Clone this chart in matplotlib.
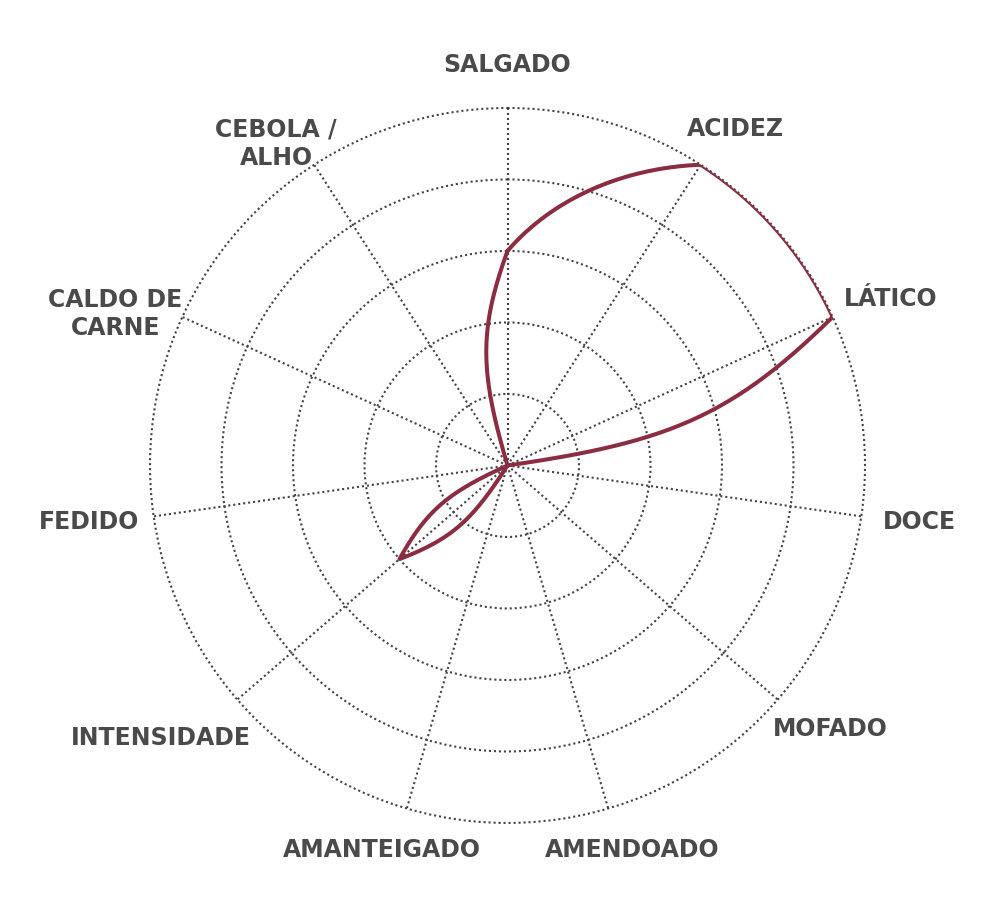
import matplotlib
matplotlib.use('Agg')
import matplotlib.pyplot as plt
import matplotlib.transforms as mtransforms
import numpy as np

# flavour profile, clockwise from the top
categories = ['SALGADO', 'ACIDEZ', 'LÁTICO', 'DOCE', 'MOFADO', 'AMENDOADO',
              'AMANTEIGADO', 'INTENSIDADE', 'FEDIDO', 'CALDO DE\nCARNE', 'CEBOLA /\nALHO']
values = [3, 5, 5, 0, 0, 0, 0, 2, 0, 0, 0]
levels = [1, 2, 3, 4, 5]

LINE = '#8b2c41'
GRID = '#444444'
TEXT = '#4a4a4a'

n = len(categories)
step = 2 * np.pi / n
angles = np.arange(n) * step
rmax = levels[-1]


def xy(theta, r):
    return np.array([r * np.sin(theta), r * np.cos(theta)])


def to_centre(ta, ra, tb, phi=np.radians(20), lam=0.4, dlt=0.45, steps=90):
    # cubic from a filled spoke into the centre, leaning toward the empty spoke
    d = (tb - ta + np.pi) % (2 * np.pi) - np.pi
    p0 = xy(ta, ra)
    inward = -xy(ta, 1)
    side = np.sign(d) * np.array([np.cos(ta), -np.sin(ta)])
    p1 = p0 + lam * ra * (np.cos(phi) * inward + np.sin(phi) * side)
    p2 = xy(ta + d / 2, dlt * ra)
    u = np.linspace(0, 1, steps)[:, None]
    return (1 - u) ** 3 * p0 + 3 * (1 - u) ** 2 * u * p1 + 3 * (1 - u) * u ** 2 * p2


segs = []
for i in range(n):
    j = (i + 1) % n
    ra, rb = values[i], values[j]
    if ra > 0 and rb > 0:
        t = np.linspace(angles[i], angles[i] + step, 90)
        r = np.linspace(ra, rb, 90)
        segs.append(np.column_stack([r * np.sin(t), r * np.cos(t)]))
    elif ra > 0:
        segs.append(to_centre(angles[i], ra, angles[j]))
    elif rb > 0:
        segs.append(to_centre(angles[j], rb, angles[i])[::-1])
    else:
        segs.append(np.zeros((1, 2)))
pts = np.vstack(segs + [segs[0][:1]])
curve_t = np.arctan2(pts[:, 0], pts[:, 1])
curve_r = np.hypot(pts[:, 0], pts[:, 1])

fig = plt.figure(figsize=(10, 9.18), dpi=100)
ax = fig.add_axes([0.15, 0.1035, 0.715, 0.7789], projection='polar')
ax.set_theta_zero_location('N')
ax.set_theta_direction(-1)
ax.set_ylim(0, rmax)
ax.set_xticks(angles)
ax.set_xticklabels([])
ax.set_yticks(levels)
ax.set_yticklabels([])
ax.spines['polar'].set_visible(False)
ax.grid(True, color=GRID, linestyle=(0, (1, 1.4)), linewidth=1.5)
for gl in ax.yaxis.get_gridlines():
    gl.set_clip_on(False)
ax.tick_params(length=0)

ax.plot(curve_t, curve_r, color=LINE, linewidth=2.9, solid_joinstyle='round',
        solid_capstyle='round', zorder=5)

# spoke labels: first line kept near the spoke, pushed out by part of their width
fig.canvas.draw()
renderer = fig.canvas.get_renderer()
centre = ax.transData.transform((0, 0))
radius = np.hypot(*(ax.transData.transform((0, rmax)) - centre))
fs = 17
line_px = fs * fig.dpi / 72 * 1.25
pad_x, pad_y, gap = 40, 31, 8
for ang, lab in zip(angles, categories):
    txt = ax.text(ang, rmax, lab, ha='center', va='center', multialignment='center',
                  fontsize=fs, fontweight='bold', color=TEXT, family='DejaVu Sans',
                  linespacing=1.25)
    bb = txt.get_window_extent(renderer)
    extra = lab.count('\n') * line_px
    h1 = bb.height - extra
    dx = (pad_x + bb.width / 4) * np.sin(ang)
    dy = (pad_y + h1 / 2) * np.cos(ang) - extra / 2
    txt.set_transform(mtransforms.offset_copy(ax.transData, fig=fig, x=dx, y=dy, units='dots'))
    if extra:
        continue
    # single-line boxes must stay clear of the outer ring
    for _ in range(30):
        bb = txt.get_window_extent(renderer)
        near = np.array([np.clip(centre[0], bb.x0, bb.x1), np.clip(centre[1], bb.y0, bb.y1)])
        short = radius + gap - np.hypot(*(near - centre))
        if short <= 0.5:
            break
        dx += short * np.sin(ang)
        dy += short * np.cos(ang)
        txt.set_transform(mtransforms.offset_copy(ax.transData, fig=fig, x=dx, y=dy, units='dots'))

fig.savefig('out.png', dpi=100, facecolor='white')
